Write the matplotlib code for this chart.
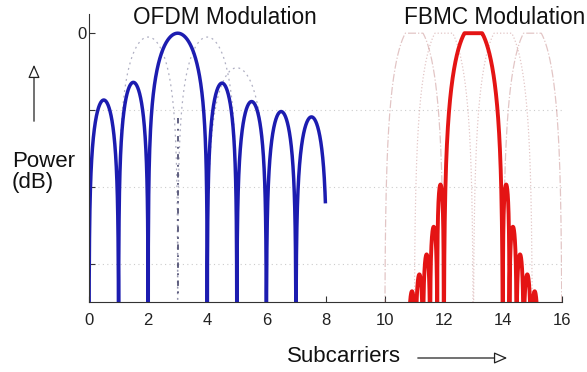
import numpy as np
import matplotlib
matplotlib.use("Agg")
import matplotlib.pyplot as plt
from matplotlib.patches import FancyArrowPatch

plt.rcParams['font.family'] = ['Liberation Sans', 'DejaVu Sans']

# OFDM: lobe edges (nulls) and lobe peak levels in dB
ofdm_nulls = [0, 1, 2, 4, 5, 6, 7, 8.05]
ofdm_peaks = [-8.7, -6.4, 0, -6.5, -8.9, -10.2, -10.9]
ofdm_end = 8
# neighbour subcarriers drawn faint (start, stop, peak)
ofdm_ghost_edges = [(1, 3), (3, 5), (4, 6)]
ofdm_ghost_peaks = [-0.5, -0.5, -4.5]
ofdm_center = 3
ofdm_center_span = (-11, -34)

# FBMC: main lobe plus side lobes
fbmc_main = (12.0, 14.0)
fbmc_main_peak = 1.0
fbmc_left_nulls = [10.8, 11.05, 11.3, 11.54, 11.78, 12.0]
fbmc_left_peaks = [-33.6, -31.4, -28.8, -25.2, -19.7]
fbmc_right_nulls = [14.0, 14.22, 14.46, 14.7, 14.95, 15.2]
fbmc_right_peaks = [-19.7, -25.2, -28.8, -31.4, -33.6]
fbmc_ghost_edges = [(10, 12), (11, 13), (13, 15), (14, 16)]
fbmc_ghost_styles = ['-.', ':', ':', '-.']

xticks = [0, 2, 4, 6, 8, 10, 12, 14, 16]
yticks = [0, -10, -20, -30]
ytick_labels = ['0', '', '', '']


def lobe(a, b, peak, k=0.7, n=300, stop=None):
    x = np.linspace(a, b, n)
    u = np.clip((x - a) / (b - a), 1e-6, 1 - 1e-6)
    y = peak + k * 20 * np.log10(np.sin(np.pi * u))
    if stop is not None:
        keep = x <= stop
        x, y = x[keep], y[keep]
    return x, np.maximum(y, -60)


fig = plt.figure(figsize=(5.87, 3.72), dpi=100)
ax = fig.add_axes([89 / 587, 70 / 372, 473 / 587, 288 / 372])

# faint grid
for yv in yticks[1:]:
    ax.axhline(yv, color='#cccccc', lw=0.8, ls=(0, (1, 3)), zorder=0)

# OFDM ghosts
for (a, b), p in zip(ofdm_ghost_edges, ofdm_ghost_peaks):
    gx, gy = lobe(a, b, p)
    ax.plot(gx, gy, color='#7a7a9a', lw=0.9, ls=(0, (1.5, 3)), alpha=0.6)
ax.plot([ofdm_center, ofdm_center], ofdm_center_span, color='#555577',
        lw=1.3, ls=(0, (3, 3, 1, 3)))

# OFDM solid curve
xs, ys = [], []
for i, p in enumerate(ofdm_peaks):
    lx, ly = lobe(ofdm_nulls[i], ofdm_nulls[i + 1], p, stop=ofdm_end)
    xs.append(lx)
    ys.append(ly)
ax.plot(np.concatenate(xs), np.concatenate(ys), color='#1c1cb0', lw=2.5,
        solid_capstyle='butt')

# FBMC ghosts
for (a, b), st in zip(fbmc_ghost_edges, fbmc_ghost_styles):
    gx, gy = lobe(a, b, fbmc_main_peak, k=1.0)
    ax.plot(gx, np.minimum(gy, 0), color='#c08080', lw=0.9, ls=st, alpha=0.45)

# FBMC solid curve
xs, ys = [], []
for i, p in enumerate(fbmc_left_peaks):
    lx, ly = lobe(fbmc_left_nulls[i], fbmc_left_nulls[i + 1], p, k=0.45)
    xs.append(lx)
    ys.append(ly)
mx, my = lobe(fbmc_main[0], fbmc_main[1], fbmc_main_peak, k=1.0)
xs.append(mx)
ys.append(np.minimum(my, 0))
for i, p in enumerate(fbmc_right_peaks):
    lx, ly = lobe(fbmc_right_nulls[i], fbmc_right_nulls[i + 1], p, k=0.45)
    xs.append(lx)
    ys.append(ly)
ax.plot(np.concatenate(xs), np.concatenate(ys), color='#e41414', lw=2.8,
        solid_capstyle='butt', solid_joinstyle='round')

ax.set_xlim(0, 16)
ax.set_ylim(-35, 2.5)
ax.spines['top'].set_visible(False)
ax.spines['right'].set_visible(False)
ax.spines['left'].set_color('#333333')
ax.spines['bottom'].set_color('#333333')
ax.set_xticks(xticks)
ax.set_yticks(yticks)
ax.set_yticklabels(ytick_labels)
ax.tick_params(direction='in', length=4, color='#333333', labelsize=12,
               labelcolor='#222222')
ax.tick_params(axis='x', pad=8)
ax.tick_params(axis='y', pad=2)

fig.text(225 / 587, 1 - 18 / 372, 'OFDM Modulation', fontsize=16.3,
         ha='center', va='center', color='#111111')
fig.text(495 / 587, 1 - 18 / 372, 'FBMC Modulation', fontsize=16.3,
         ha='center', va='center', color='#111111')
fig.text(12 / 587, 1 - 172 / 372, 'Power\n(dB)', fontsize=16, ha='left',
         va='center', color='#111111', linespacing=1.05)
fig.text(287 / 587, 1 - 357 / 372, 'Subcarriers', fontsize=16, ha='left',
         va='center', color='#111111')

up = FancyArrowPatch((34 / 587, 1 - 124 / 372), (34 / 587, 1 - 62 / 372),
                     transform=fig.transFigure,
                     arrowstyle='-|>,head_width=3.5,head_length=8',
                     fc='white', ec='#222222', lw=0.9)
right = FancyArrowPatch((415 / 587, 1 - 358 / 372), (510 / 587, 1 - 358 / 372),
                        transform=fig.transFigure,
                        arrowstyle='-|>,head_width=3.5,head_length=8',
                        fc='white', ec='#222222', lw=0.9)
fig.patches.extend([up, right])

fig.savefig('out.png', dpi=100)
